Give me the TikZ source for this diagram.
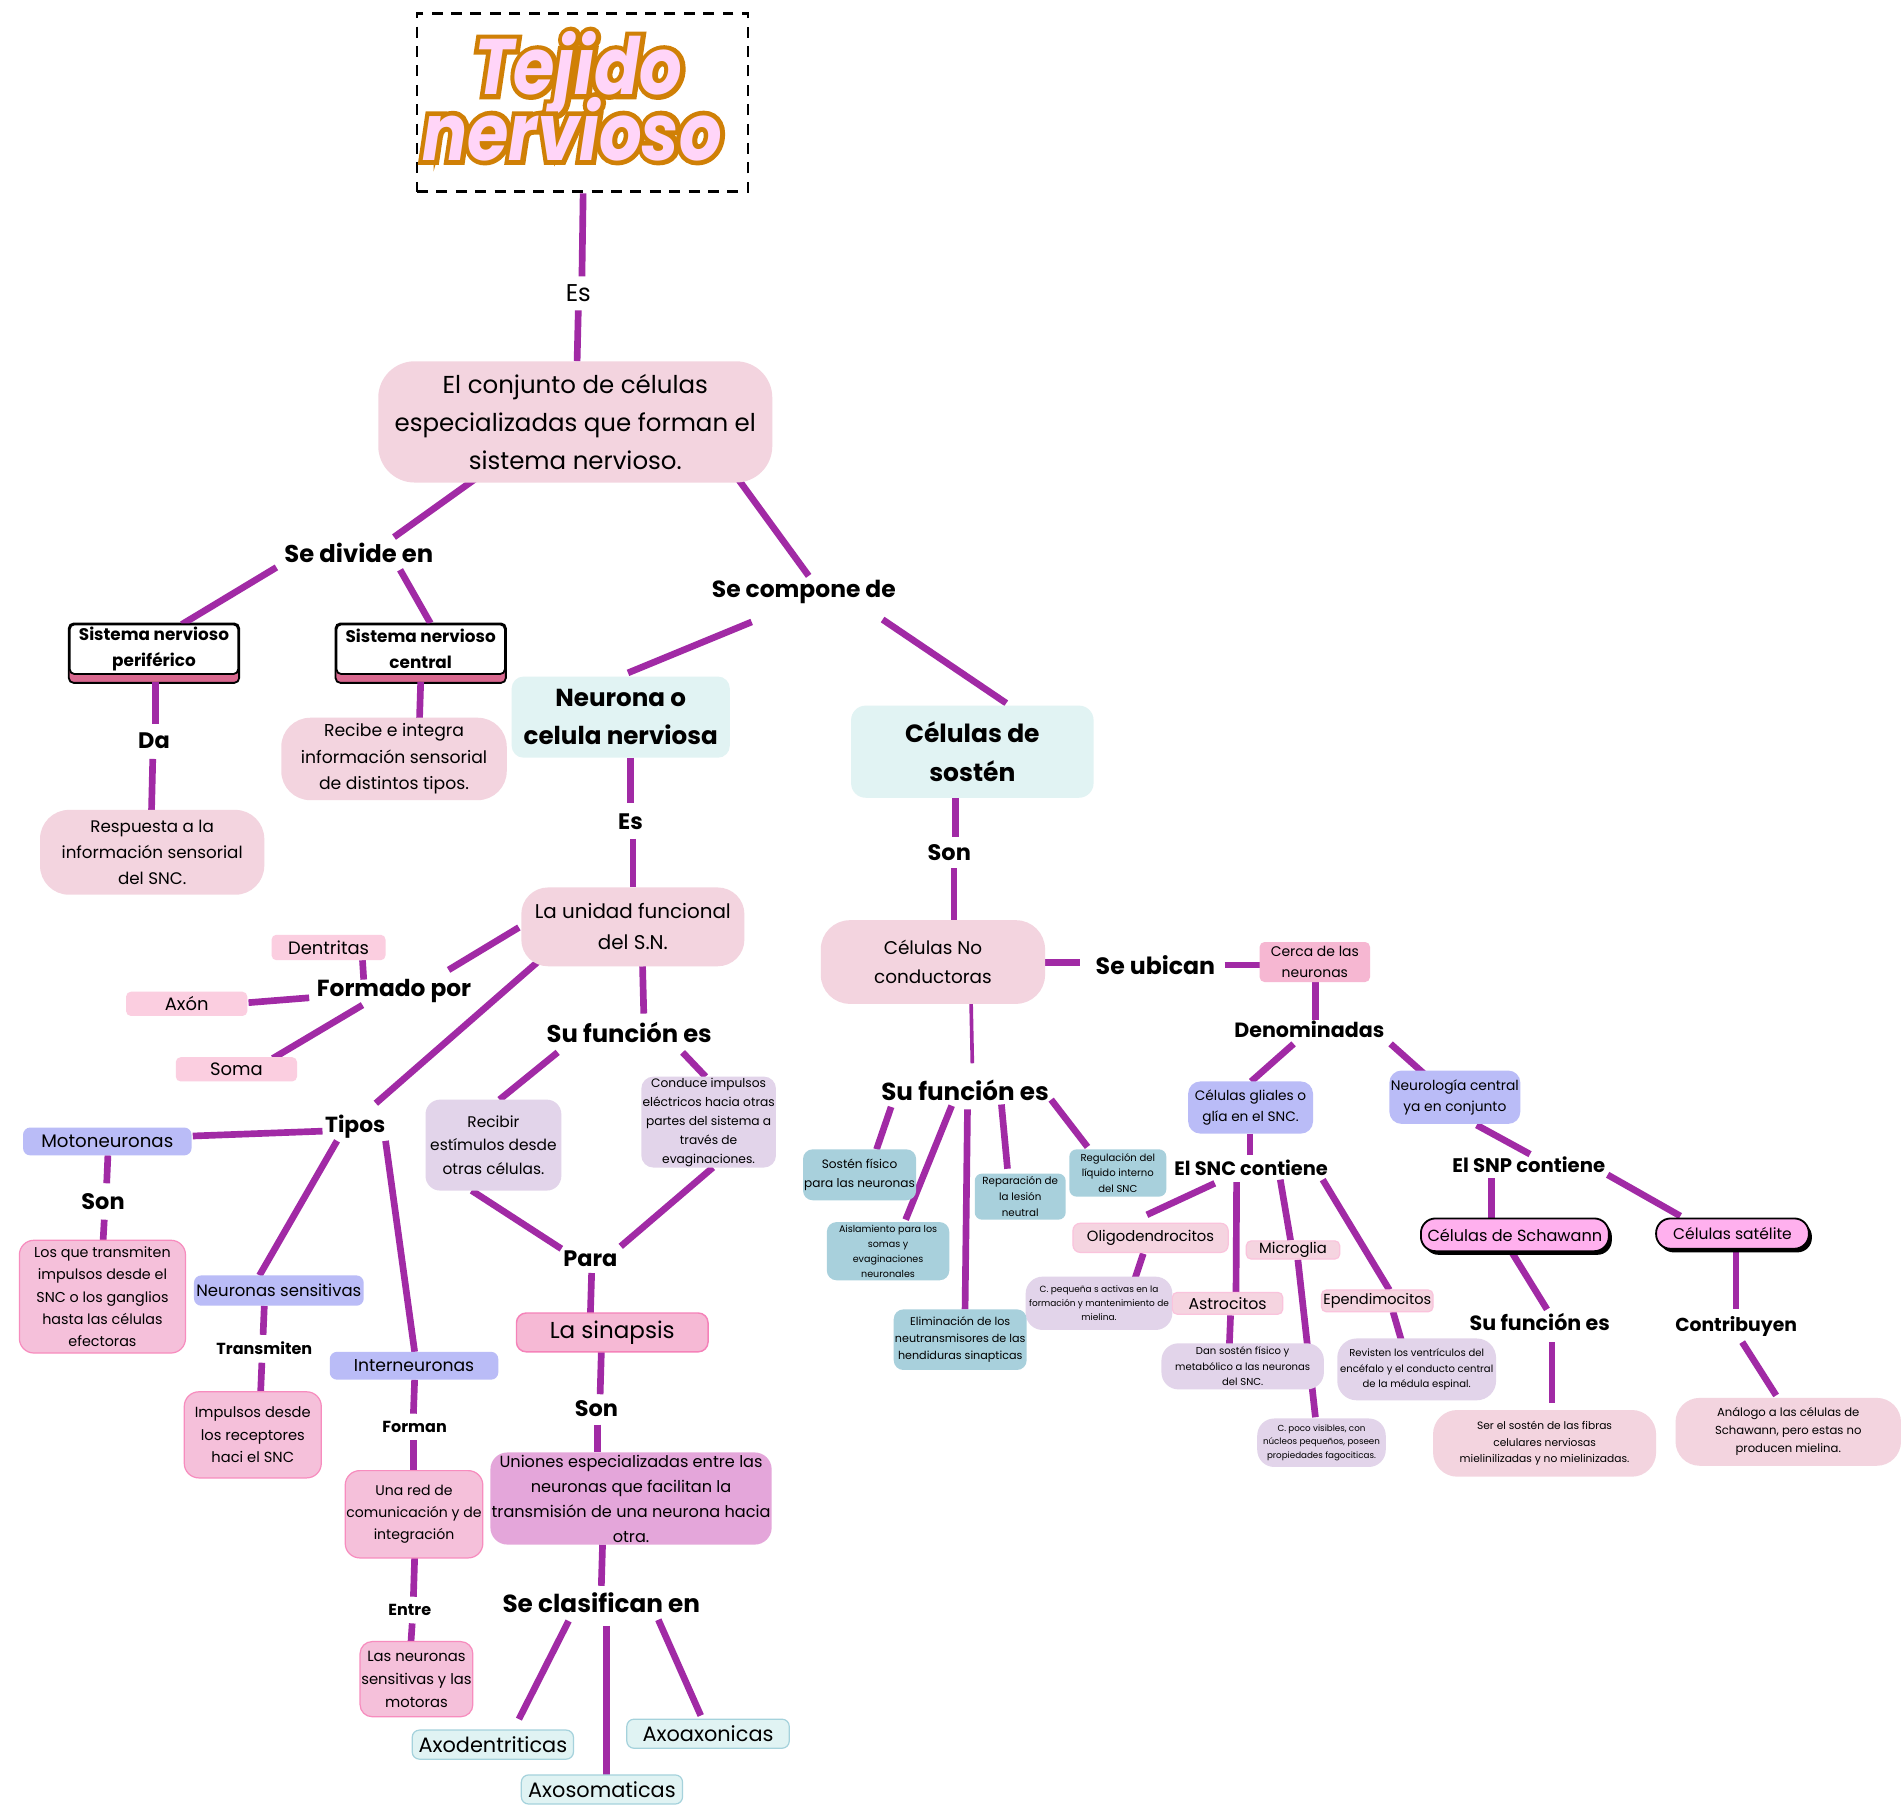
\documentclass[tikz,border=0pt]{standalone}
\usepackage{fontspec}
\setmainfont{Poppins}
\newfontfamily\titlefont{Poppins}[FakeStretch=0.85]
\newfontfamily\titlestroke{Poppins}[FakeStretch=0.85, FakeBold=12]
\usetikzlibrary{calc,backgrounds,shadows}
\definecolor{cpur}{RGB}{161,42,165}
\definecolor{bpink}{RGB}{243,212,223}
\definecolor{ncyan}{RGB}{225,243,243}
\definecolor{spink}{RGB}{251,206,224}
\definecolor{lav}{RGB}{186,188,247}
\definecolor{mpink}{RGB}{245,192,218}
\definecolor{mpinkb}{RGB}{247,140,190}
\definecolor{lpur}{RGB}{226,212,234}
\definecolor{orch}{RGB}{228,166,218}
\definecolor{sinp}{RGB}{246,185,213}
\definecolor{sinpb}{RGB}{245,130,185}
\definecolor{acyan}{RGB}{224,243,243}
\definecolor{acyanb}{RGB}{165,210,220}
\definecolor{bblue}{RGB}{168,208,220}
\definecolor{opink}{RGB}{245,212,224}
\definecolor{opinkb}{RGB}{250,195,220}
\definecolor{cerc}{RGB}{246,183,210}
\definecolor{pillc}{RGB}{255,176,238}
\definecolor{sysbar}{RGB}{217,104,143}
\definecolor{tor}{RGB}{208,128,6}
\definecolor{tpink}{RGB}{255,213,248}
\newcommand\myfs[1]{\fontsize{#1pt}{\fpeval{#1*1.55}pt}\selectfont}
\newcommand\cn[5][]{\draw[conn,#1] ($(#2)+(#3)$) -- ($(#4)+(#5)$);}
\newcommand\ttltext[1]{\rlap{\titlestroke\bfseries\itshape\color{tor}#1}{\color{tpink}#1}}
\tikzset{
 conn/.style={line width=5.5pt, draw=cpur},
 tsz/.style={font=\myfs{#1}},
 lbl/.style={inner sep=1pt, font=\myfs{#1}\bfseries},
 bx/.style={align=center, inner sep=1pt, rounded corners=#1},
 bx/.default=6pt,
 blob/.style={align=center, inner sep=1pt, fill=bpink, rounded corners=#1},
 blob/.default=18pt,
 sz/.style 2 args={minimum width=#1, minimum height=#2},
 sysbox/.style={draw=black, line width=1.5pt, fill=white, rounded corners=4pt, align=center, inner sep=1pt, minimum width=139, minimum height=41, font=\myfs{13.9}\bfseries},
 pill/.style={draw=black, line width=1.5pt, fill=pillc, rounded corners=12pt, align=center, inner sep=2pt, drop shadow={shadow xshift=2.5pt, shadow yshift=-3pt, opacity=1, fill=black}},
 ttl/.style={font=\titlefont\myfs{65}\bfseries\itshape, inner sep=0, anchor=base},
}
\begin{document}
\begin{tikzpicture}[x=1pt,y=-1pt]
\useasboundingbox (0,0) rectangle (1568,1488);
% title
\node[draw=black, line width=2pt, dash pattern=on 9pt off 7pt, minimum width=273, minimum height=147, inner sep=0] (title) at (480.5,84.5) {};
\node[ttl] (ttlA) at (477,78) {\ttltext{Tejido}};
\node[ttl] (ttlB) at (472,132) {\ttltext{nervioso}};

\node[tsz=20, inner sep=1pt] (es0) at (477,242) {Es};
\node[blob=30pt, sz={325}{100}, tsz=20.2] (main) at (474.5,348) {El conjunto de células\\especializadas que forman el\\sistema nervioso.};

% left branch
\node[lbl=20] (sediv) at (296,456) {Se divide en};
\node[sysbox] (snp) at (127,535.5) {Sistema nervioso\\periférico};
\node[sysbox] (snc) at (347,535.5) {Sistema nervioso\\central};
\node[lbl=18.5] (da) at (127,611) {Da};
\node[blob=24pt, sz={185}{70}, tsz=13.8] (resp) at (125.5,703) {Respuesta a la\\información sensorial\\del SNC.};
\node[blob=24pt, sz={186}{68}, tsz=14.2] (recibe) at (325,626) {Recibe e integra\\información sensorial\\de distintos tipos.};

% neurona
\node[lbl=19.3] (secomp) at (663,488) {Se compone de};
\node[bx=10pt, fill=ncyan, sz={180}{67}, font=\myfs{20.3}\bfseries] (neurona) at (512,591.5) {Neurona o\\celula nerviosa};
\node[bx=12pt, fill=ncyan, sz={200}{76}, font=\myfs{20.6}\bfseries] (sosten) at (802,620) {Células de\\sostén};
\node[lbl=18.5] (es1) at (520,678) {Es};
\node[blob=22pt, sz={184}{65}, tsz=16.4] (unidad) at (522,764.5) {La unidad funcional\\del S.N.};
\node[lbl=19.2] (formado) at (325,817) {Formado por};
\node[bx=4pt, fill=spink, sz={94}{21}, tsz=14.8] (dentritas) at (271,781.5) {Dentritas};
\node[bx=4pt, fill=spink, sz={100}{20}, tsz=14.8] (axon) at (154,828) {Axón};
\node[bx=4pt, fill=spink, sz={100}{20}, tsz=14.8] (soma) at (195,882) {Soma};
\node[lbl=18] (tipos) at (293,929) {Tipos};
\node[bx, fill=lav, sz={139}{23}, tsz=15] (moto) at (88.5,941.5) {Motoneuronas};
\node[lbl=18.5] (son1) at (85,991) {Son};
\node[bx=12pt, fill=mpink, draw=mpinkb, line width=1pt, sz={137}{93}, tsz=11.8] (lostrans) at (84.5,1069.5) {Los que transmiten\\impulsos desde el\\SNC o los ganglios\\hasta las células\\efectoras};
\node[bx, fill=lav, sz={140}{25}, tsz=13.6] (sensit) at (230,1064.5) {Neuronas sensitivas};
\node[lbl=13.2] (transm) at (218,1112) {Transmiten};
\node[bx=12pt, fill=mpink, draw=mpinkb, line width=1pt, sz={113}{71}, tsz=12.1] (impulsos) at (208.5,1183.5) {Impulsos desde\\los receptores\\haci el SNC};
\node[bx, fill=lav, sz={139}{23}, tsz=14.2] (inter) at (341.5,1126.5) {Interneuronas};
\node[lbl=13.2] (forman) at (342,1177) {Forman};
\node[bx=12pt, fill=mpink, draw=mpinkb, line width=1pt, sz={113}{72}, tsz=11.6] (unared) at (341.5,1249) {Una red de\\comunicación y de\\integración};
\node[lbl=13.2] (entre) at (338,1328) {Entre};
\node[bx=10pt, fill=mpink, draw=mpinkb, line width=1pt, sz={93}{62}, tsz=12.2] (lasneur) at (343.5,1385) {Las neuronas\\sensitivas y las\\motoras};
\node[lbl=20] (sufun1) at (519,852) {Su función es};
\node[bx=12pt, fill=lpur, sz={112}{75}, tsz=12.7] (recibir) at (407,944.5) {Recibir\\estímulos desde\\otras células.};
\node[bx=10pt, fill=lpur, sz={111}{75}, tsz=10.1] (conduce) at (584.5,925.5) {Conduce impulsos\\eléctricos hacia otras\\partes del sistema a\\través de\\evaginaciones.};
\node[lbl=18.5] (para) at (487,1038) {Para};
\node[bx=8pt, fill=sinp, draw=sinpb, line width=1.2pt, sz={158}{32}, tsz=19] (sinapsis) at (505,1099) {La sinapsis};
\node[lbl=18.5] (son2) at (492,1162) {Son};
\node[bx=14pt, fill=orch, sz={231}{76}, tsz=13.3] (uniones) at (520.5,1236) {Uniones especializadas entre las\\neuronas que facilitan la\\transmisión de una neurona hacia\\otra.};
\node[lbl=20.4] (seclas) at (496,1322) {Se clasifican en};
\node[bx, fill=acyan, draw=acyanb, line width=1pt, sz={133}{24}, tsz=17.2] (axoden) at (406.5,1439) {Axodentriticas};
\node[bx, fill=acyan, draw=acyanb, line width=1pt, sz={133}{24}, tsz=17.2] (axosom) at (496.5,1476) {Axosomaticas};
\node[bx, fill=acyan, draw=acyanb, line width=1pt, sz={134}{24}, tsz=17.2] (axoax) at (584,1430) {Axoaxonicas};

% sosten branch
\node[lbl=18.5] (son3) at (783,703) {Son};
\node[blob=24pt, sz={185}{69}, tsz=15.2] (noconduct) at (769.5,793.5) {Células No\\conductoras};
\node[lbl=19.5] (seubican) at (953,796) {Se ubican};
\node[bx=4pt, fill=cerc, sz={91}{33}, tsz=11.5] (cerca) at (1084.5,793.5) {Cerca de las\\neuronas};
\node[lbl=17] (denom) at (1080,849) {Denominadas};
\node[bx=10pt, fill=lav, sz={103}{43}, tsz=11.3] (gliales) at (1031.5,913.5) {Células gliales o\\glía en el SNC.};
\node[lbl=16] (sncont) at (1032,963) {El SNC contiene};
\node[bx, fill=opink, draw=opinkb, line width=1pt, sz={128}{24}, tsz=12.2] (oligo) at (949,1021) {Oligodendrocitos};
\node[blob=14pt, fill=lpur, sz={121}{44}, tsz=7.4] (cpeq) at (906.5,1075) {C. pequeña s activas en la\\formación y mantenimiento de\\mielina.};
\node[bx=4pt, fill=opink, draw=opinkb, line width=1pt, sz={91}{18}, tsz=13] (astro) at (1012.5,1075) {Astrocitos};
\node[blob=14pt, fill=lpur, sz={134}{38}, tsz=8.3] (dansost) at (1025,1127) {Dan sostén físico y\\metabólico a las neuronas\\del SNC.};
\node[bx=4pt, fill=opink, draw=opinkb, line width=1pt, sz={77}{15}, tsz=12.2] (micro) at (1066.5,1031) {Microglia};
\node[blob=14pt, fill=lpur, sz={106}{40}, tsz=7.2] (cpoco) at (1090,1190) {C. poco visibles, con\\núcleos pequeños, poseen\\propiedades fagociticas.};
\node[bx=4pt, fill=opink, draw=opinkb, line width=1pt, sz={92}{18}, tsz=12] (epend) at (1136,1073) {Ependimocitos};
\node[blob=16pt, fill=lpur, sz={131}{51}, tsz=8.3] (revisten) at (1168.5,1129.5) {Revisten los ventrículos del\\encéfalo y el conducto central\\de la médula espinal.};
\node[bx=10pt, fill=lav, sz={108}{44}, tsz=11.4] (neurocent) at (1200,905) {Neurología central\\ya en conjunto};
\node[lbl=16.2] (snpcont) at (1261,961) {El SNP contiene};
\node[pill, tsz=13.3, sz={155}{27}] (schwann) at (1249.5,1018.5) {Células de Schawann};
\node[lbl=17] (sufun3) at (1270,1090) {Su función es};
\node[blob=20pt, sz={184}{55}, tsz=8.8] (sersost) at (1274,1190.5) {Ser el sostén de las fibras\\celulares nerviosas\\mielinilizadas y no mielinizadas.};
\node[pill, tsz=12.8, sz={126}{25}] (satel) at (1429,1017.5) {Células satélite};
\node[lbl=15.5] (contrib) at (1432,1094) {Contribuyen};
\node[blob=20pt, sz={186}{56}, tsz=9.6] (analogo) at (1475,1181) {Análogo a las células de\\Schawann, pero estas no\\producen mielina.};
\node[lbl=20.3] (sufun2) at (796,899) {Su función es};
\node[bx=8pt, fill=bblue, sz={92}{42}, tsz=10] (sostfis) at (709,969) {Sostén físico\\para las neuronas};
\node[bx=8pt, fill=bblue, sz={101}{48}, tsz=7.9] (aisla) at (732.5,1032) {Aislamiento para los\\somas y\\evaginaciones\\neuronales};
\node[bx=8pt, fill=bblue, sz={108}{50}, tsz=9.2] (elimin) at (792,1105) {Eliminación de los\\neutransmisores de las\\hendiduras sinapticas};
\node[bx, fill=bblue, sz={75}{38}, tsz=8.5] (repara) at (841.5,987) {Reparación de\\la lesión\\neutral};
\node[bx, fill=bblue, sz={80}{39}, tsz=8.3] (regula) at (922,967.5) {Regulación del\\líquido interno\\del SNC};

\begin{scope}[on background layer]
\fill[white] (0,0) rectangle (1568,1488);
\draw[black,line width=1.5pt,fill=sysbar,rounded corners=4pt] ($(snp.south west)+(0,6.5)$) rectangle (snp.north east);
\draw[black,line width=1.5pt,fill=sysbar,rounded corners=4pt] ($(snc.south west)+(0,6.5)$) rectangle (snc.north east);
\cn{title}{0.5,75}{es0}{3,-14}
\cn{es0}{0,14}{main}{1.5,-50}
\cn{main}{-82.5,47}{sediv}{29,-13}
\cn{sediv}{-68,12}{snp}{23,-20.5}
\cn{sediv}{34,14}{snc}{8,-21.5}
\cn{snp}{1,27}{da}{1,-14}
\cn{da}{-1,15}{resp}{-0.5,-35}
\cn{snc}{0,27}{recibe}{21,-32}
\cn{main}{133.5,46}{secomp}{4,-13}
\cn{secomp}{-43,25}{neurona}{6,-36.5}
\cn{secomp}{65,23}{sosten}{28,-40}
\cn{neurona}{8,33.5}{es1}{0,-16}
\cn{es1}{2,14}{unidad}{0,-32.5}
\cn{unidad}{-94,0.5}{formado}{45,-17}
\cn{formado}{-25,-9}{dentritas}{28,10.5}
\cn{formado}{-70,6}{axon}{51,-1}
\cn{formado}{-26,12}{soma}{30,-9}
\cn{unidad}{-70,21.5}{tipos}{17,-19}
\cn{tipos}{-27,4}{moto}{70.5,-4.5}
\cn{moto}{0.5,11.5}{son1}{3,-15}
\cn{son1}{1,15}{lostrans}{0.5,-45.5}
\cn{tipos}{-15,12}{sensit}{-16,-12.5}
\cn{sensit}{-12,12.5}{transm}{-1,-11}
\cn{transm}{-2,12}{impulsos}{6.5,-35.5}
\cn{tipos}{25,12}{inter}{0.5,-11.5}
\cn{inter}{0.5,11.5}{forman}{-1,-11}
\cn{forman}{-1,11}{unared}{-0.5,-36}
\cn{unared}{0.5,36}{entre}{3,-11}
\cn{entre}{2,11}{lasneur}{-4.5,-31}
\cn{unidad}{8,32.5}{sufun1}{12,-16}
\cn{sufun1}{-59,16}{recibir}{5,-37.5}
\cn{sufun1}{44,16}{conduce}{-2.5,-37.5}
\cn{recibir}{-18,37.5}{para}{-24,-8}
\cn{conduce}{3.5,37.5}{para}{25,-10}
\cn{para}{1,12}{sinapsis}{-18,-16}
\cn{sinapsis}{-9,16}{son2}{3,-12}
\cn{son2}{1,13}{uniones}{-27.5,-38}
\cn{uniones}{-23.5,38}{seclas}{0,-14}
\cn{seclas}{-27,15}{axoden}{21.5,-21}
\cn{seclas}{4,19}{axosom}{3.5,-12}
\cn{seclas}{47,14}{axoax}{-6,-15}
\cn{sosten}{-14,38}{son3}{5,-13}
\cn{son3}{4,13}{noconduct}{17.5,-34.5}
\cn{noconduct}{92.5,0.5}{seubican}{-62,-2}
\cn{seubican}{57,0}{cerca}{-44.5,2.5}
\cn{cerca}{0.5,16.5}{denom}{5,-8}
\cn{denom}{-13,12}{gliales}{0.5,-21.5}
\cn{denom}{67,12}{neurocent}{-25,-19}
\cn{gliales}{-0.5,21.5}{sncont}{-1,-10}
\cn{sncont}{-30,13}{oligo}{-3,-19}
\cn{sncont}{-12,12}{astro}{7,-9}
\cn{sncont}{24,10}{micro}{-2,-8}
\cn{micro}{4,8}{cpoco}{-5,-21}
\cn{sncont}{59,10}{epend}{10,-9}
\cn{oligo}{-6,13}{cpeq}{29.5,-20}
\cn{astro}{2.5,10}{dansost}{-11,-17}
\cn{epend}{13,9}{revisten}{-12.5,-23.5}
\cn{neurocent}{18,23}{snpcont}{1,-9}
\cn{snpcont}{-31,11}{schwann}{-19.5,-13.5}
\cn{snpcont}{65,8}{satel}{-43,-14.5}
\cn{schwann}{-2.5,14.5}{sufun3}{6,-10}
\cn{sufun3}{10,17}{sersost}{6,-33.5}
\cn{satel}{3,14.5}{contrib}{0,-14}
\cn{contrib}{5,13}{analogo}{-10,-30}
\cn[line width=3pt]{noconduct}{31.5,34.5}{sufun2}{6,-22}
\cn{sufun2}{-61,14}{sostfis}{14,-21}
\cn{sufun2}{-11,13}{aisla}{14.5,-26}
\cn{sufun2}{2,16}{elimin}{4,-25}
\cn{sufun2}{30,12}{repara}{-10.5,-23}
\cn{sufun2}{71,8}{regula}{-25,-21.5}
\end{scope}
\end{tikzpicture}
\end{document}
